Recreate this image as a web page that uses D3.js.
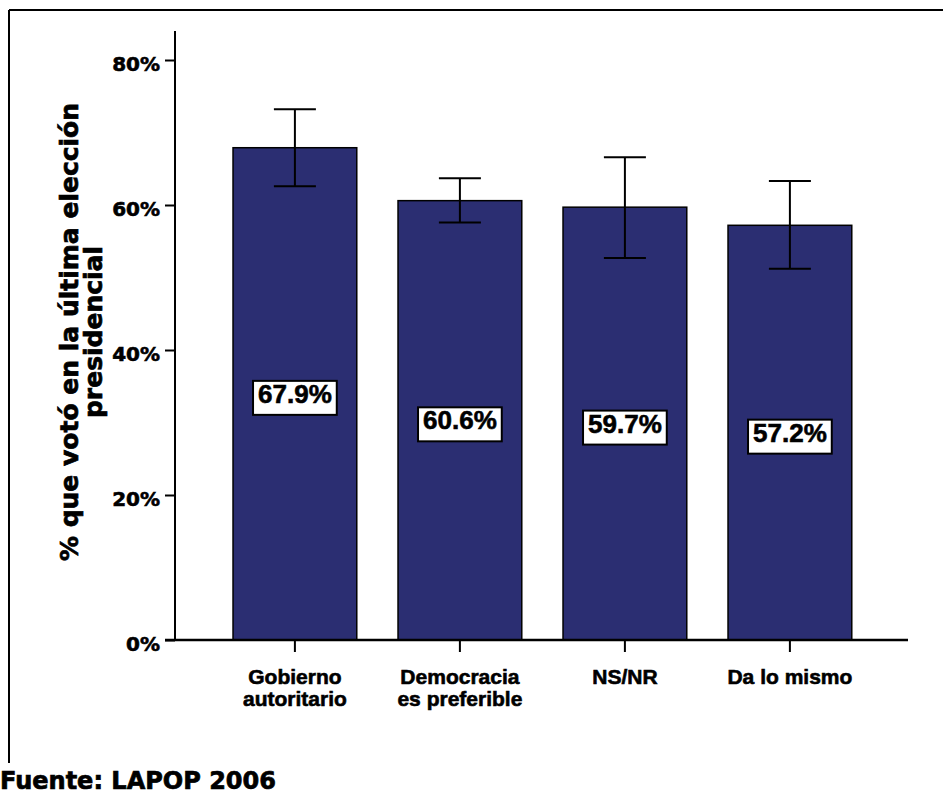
<!DOCTYPE html>
<html>
<head>
<meta charset="utf-8">
<script src="https://cdn.jsdelivr.net/npm/d3@7"></script>
<style>
  body { margin: 0; background: #fff; }
  svg { display: block; }
  .tick text { font-family: "DejaVu Sans", Verdana, sans-serif; font-weight: bold; }
</style>
</head>
<body>
<div id="chart"></div>
<script>
// data
var categories = ["Gobierno autoritario", "Democracia es preferible", "NS/NR", "Da lo mismo"];
var categoryLines = [["Gobierno", "autoritario"], ["Democracia", "es preferible"], ["NS/NR"], ["Da lo mismo"]];
var values = [67.9, 60.6, 59.7, 57.2];
var ciLow = [62.6, 57.6, 52.7, 51.2];
var ciHigh = [73.2, 63.7, 66.6, 63.3];
var yTicks = [0, 20, 40, 60, 80];
var yTitle = ["% que votó en la última elección", "presidencial"];
var source = "Fuente: LAPOP 2006";

var W = 943, H = 794;
var barColor = "#2b2e72";
var boldWide = "'DejaVu Sans', Verdana, sans-serif";
var boldNarrow = "'Liberation Sans Narrow', 'Arial Narrow', 'Liberation Sans', Arial, sans-serif";

var svg = d3.select("#chart").append("svg")
    .attr("width", W)
    .attr("height", H);

// frame: top and left lines only
svg.append("line")
    .attr("x1", 9).attr("y1", 10).attr("x2", W).attr("y2", 10)
    .style("stroke", "#000").style("stroke-width", 2);
svg.append("line")
    .attr("x1", 9).attr("y1", 10).attr("x2", 9).attr("y2", 763)
    .style("stroke", "#000").style("stroke-width", 2);

// scales
var y = d3.scaleLinear()
    .domain([0, 80])
    .range([640, 60]);

var x = d3.scaleBand()
    .domain(categories)
    .range([212.4, 872.4])
    .paddingInner(0.25)
    .paddingOuter(0.125);

var axisX0 = 175;

// y axis
var yAxis = svg.append("g")
    .attr("transform", "translate(" + axisX0 + ",0)")
    .call(d3.axisLeft(y)
      .tickValues(yTicks)
      .tickFormat(d => d + "%")
      .tickSize(10)
      .tickSizeOuter(0)
      .tickPadding(5));
yAxis.select(".domain").remove();
yAxis.selectAll(".tick line").style("stroke-width", 2);
yAxis.selectAll(".tick text")
    .attr("font-size", 20)
    .attr("dy", "0.5em")
    .style("fill", "#000")
    .style("stroke", "#000")
    .style("stroke-width", 0.6);

svg.append("line")
    .attr("x1", axisX0).attr("x2", axisX0)
    .attr("y1", y(84)).attr("y2", y(0))
    .style("stroke", "#000").style("stroke-width", 2);

// y title (two lines, rotated)
var titleG = svg.append("g")
    .attr("transform", "translate(78,332) rotate(-90)");
titleG.selectAll("text")
    .data(yTitle)
    .enter()
    .append("text")
    .attr("x", 0)
    .attr("y", (d, i) => i * 24)
    .attr("text-anchor", "middle")
    .attr("font-family", boldWide)
    .attr("font-weight", "bold")
    .attr("font-size", 25)
    .style("stroke", "#000")
    .style("stroke-width", 0.7)
    .text(d => d);

// bars
var bars = svg.append("g");
bars.selectAll("rect")
    .data(values)
    .enter()
    .append("rect")
    .attr("x", (d, i) => x(categories[i]))
    .attr("y", d => y(d))
    .attr("width", x.bandwidth())
    .attr("height", d => y(0) - y(d))
    .style("fill", barColor)
    .style("stroke", "#000")
    .style("stroke-width", 1.5);

// error bars
var capW = 21;
var err = svg.append("g").selectAll("g")
    .data(values)
    .enter()
    .append("g")
    .style("stroke", "#000")
    .style("stroke-width", 2);
err.append("line")
    .attr("x1", (d, i) => x(categories[i]) + x.bandwidth() / 2)
    .attr("x2", (d, i) => x(categories[i]) + x.bandwidth() / 2)
    .attr("y1", (d, i) => y(ciLow[i]))
    .attr("y2", (d, i) => y(ciHigh[i]));
err.append("line")
    .attr("x1", (d, i) => x(categories[i]) + x.bandwidth() / 2 - capW)
    .attr("x2", (d, i) => x(categories[i]) + x.bandwidth() / 2 + capW)
    .attr("y1", (d, i) => y(ciHigh[i]))
    .attr("y2", (d, i) => y(ciHigh[i]));
err.append("line")
    .attr("x1", (d, i) => x(categories[i]) + x.bandwidth() / 2 - capW)
    .attr("x2", (d, i) => x(categories[i]) + x.bandwidth() / 2 + capW)
    .attr("y1", (d, i) => y(ciLow[i]))
    .attr("y2", (d, i) => y(ciLow[i]));

// x axis line and ticks
svg.append("line")
    .attr("x1", 165).attr("x2", 908)
    .attr("y1", y(0)).attr("y2", y(0))
    .style("stroke", "#000").style("stroke-width", 2.5);
svg.append("g").selectAll("line")
    .data(categories)
    .enter()
    .append("line")
    .attr("x1", d => x(d) + x.bandwidth() / 2)
    .attr("x2", d => x(d) + x.bandwidth() / 2)
    .attr("y1", y(0))
    .attr("y2", y(0) + 12)
    .style("stroke", "#000").style("stroke-width", 2);

// category labels, one text per line
var cat = svg.append("g").selectAll("g")
    .data(categories)
    .enter()
    .append("g");
cat.each(function(d, i) {
  d3.select(this).selectAll("text")
    .data(categoryLines[i])
    .enter()
    .append("text")
    .attr("x", x(d) + x.bandwidth() / 2)
    .attr("y", (t, j) => 684 + j * 22)
    .attr("text-anchor", "middle")
    .attr("font-family", boldNarrow)
    .attr("font-weight", "bold")
    .attr("font-size", 21)
    .style("stroke", "#000")
    .style("stroke-width", 0.6)
    .text(t => t);
});

// value labels in white boxes
var lab = svg.append("g").selectAll("g")
    .data(values)
    .enter()
    .append("g");
lab.append("text")
    .attr("x", (d, i) => x(categories[i]) + x.bandwidth() / 2)
    .attr("y", d => y(d / 2) + 9)
    .attr("text-anchor", "middle")
    .attr("font-family", boldNarrow)
    .attr("font-weight", "bold")
    .attr("font-size", 26)
    .style("stroke", "#000")
    .style("stroke-width", 0.6)
    .text(d => d.toFixed(1) + "%");
lab.each(function() {
  let g = d3.select(this);
  let b = g.select("text").node().getBBox();
  g.insert("rect", "text")
    .attr("x", b.x - 5)
    .attr("y", b.y + 2)
    .attr("width", b.width + 10)
    .attr("height", b.height + 4)
    .style("fill", "#fff")
    .style("stroke", "#000")
    .style("stroke-width", 2);
});

// source note
svg.append("text")
    .attr("x", 0)
    .attr("y", 789)
    .attr("font-family", boldWide)
    .attr("font-weight", "bold")
    .attr("font-size", 24)
    .style("stroke", "#000")
    .style("stroke-width", 0.7)
    .text(source);
</script>
</body>
</html>
